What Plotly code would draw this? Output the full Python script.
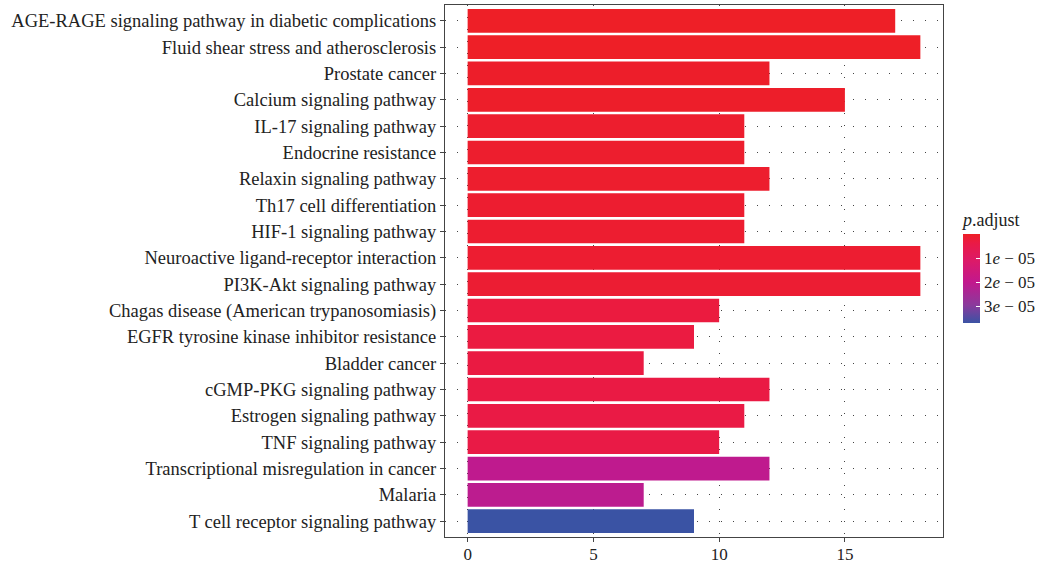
import plotly.graph_objects as go

pathways = [
    "AGE-RAGE signaling pathway in diabetic complications",
    "Fluid shear stress and atherosclerosis",
    "Prostate cancer",
    "Calcium signaling pathway",
    "IL-17 signaling pathway",
    "Endocrine resistance",
    "Relaxin signaling pathway",
    "Th17 cell differentiation",
    "HIF-1 signaling pathway",
    "Neuroactive ligand-receptor interaction",
    "PI3K-Akt signaling pathway",
    "Chagas disease (American trypanosomiasis)",
    "EGFR tyrosine kinase inhibitor resistance",
    "Bladder cancer",
    "cGMP-PKG signaling pathway",
    "Estrogen signaling pathway",
    "TNF signaling pathway",
    "Transcriptional misregulation in cancer",
    "Malaria",
    "T cell receptor signaling pathway",
]
counts = [17, 18, 12, 15, 11, 11, 12, 11, 11, 18, 18, 10, 9, 7, 12, 11, 10, 12, 7, 9]
p_adjust = [1e-7, 1e-7, 5e-7, 5e-7, 1e-6, 1e-6, 1e-6, 1.2e-6, 1.2e-6, 1.3e-6, 1.5e-6,
            3e-6, 3.2e-6, 3.4e-6, 3.6e-6, 3.8e-6, 4e-6, 2.05e-5, 2.1e-5, 3.7e-5]
cbar_ticks = [1e-5, 2e-5, 3e-5]
cbar_labels = ["1<i>e</i> \u2212 05", "2<i>e</i> \u2212 05", "3<i>e</i> \u2212 05"]
x_ticks = [0, 5, 10, 15]

p_max = 3.7e-5
FONT = "Liberation Serif"
# colour uses negative p so small p (red) appears at the top of the colorbar
colorscale = [
    [0.0, "#3A53A4"],
    [0.2, "#8A3A9C"],
    [0.46, "#C2188D"],
    [0.7, "#DC1A68"],
    [0.9, "#EA1A45"],
    [1.0, "#EE1F26"],
]

fig = go.Figure(go.Bar(
    y=pathways,
    x=counts,
    orientation="h",
    marker=dict(
        color=[-p for p in p_adjust],
        colorscale=colorscale,
        cmin=-p_max,
        cmax=0,
        line=dict(width=0),
        colorbar=dict(
            title=dict(text="<i>p</i>.adjust", side="top",
                       font=dict(family=FONT, size=18, color="#222")),
            tickvals=[-t for t in cbar_ticks],
            ticktext=cbar_labels,
            ticks="inside",
            ticklen=4,
            tickcolor="white",
            tickfont=dict(family=FONT, size=17, color="#222"),
            thickness=17,
            len=114,
            lenmode="pixels",
            x=(963 - 445) / 498,
            xanchor="left",
            xpad=0,
            ypad=0,
            y=(537 - 323) / 532,
            yanchor="bottom",
            outlinewidth=0,
        ),
    ),
    width=0.9,
    showlegend=False,
))

fig.update_layout(
    width=1044,
    height=563,
    margin=dict(l=445, r=101, t=5, b=26, autoexpand=False),
    paper_bgcolor="white",
    plot_bgcolor="white",
    font=dict(family=FONT, size=17, color="#222"),
    xaxis=dict(
        range=[-0.9, 18.9],
        tickvals=x_ticks,
        showgrid=True,
        gridcolor="#444",
        gridwidth=1,
        griddash="1px,11px",
        zeroline=False,
        showline=True,
        linecolor="#444",
        linewidth=1.2,
        mirror=True,
        ticks="outside",
        ticklen=4,
        tickcolor="#444",
        ticklabelstandoff=-3,
        tickfont=dict(family=FONT, size=17, color="#222"),
    ),
    yaxis=dict(
        categoryorder="array",
        categoryarray=pathways,
        range=[len(pathways) - 0.4, -0.6],
        showgrid=True,
        gridcolor="#444",
        gridwidth=1,
        griddash="1px,11px",
        zeroline=False,
        showline=True,
        linecolor="#444",
        linewidth=1.2,
        mirror=True,
        ticks="outside",
        ticklen=4,
        tickcolor="#444",
        tickfont=dict(family=FONT, size=18.5, color="#222"),
    ),
)

fig.write_html("out.html", config={"displayModeBar": False},
               post_script="document.body.style.margin='0';")
